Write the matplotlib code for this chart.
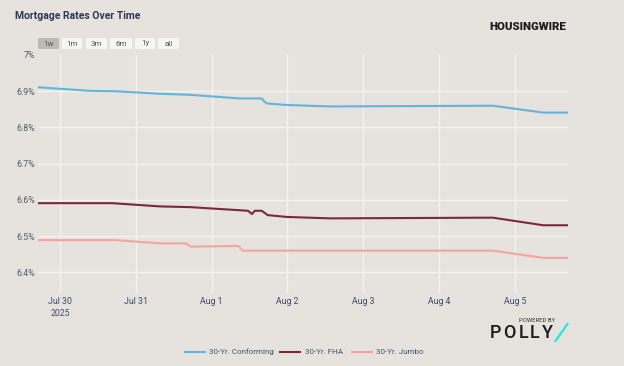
import matplotlib
matplotlib.use("Agg")
import matplotlib.pyplot as plt
from matplotlib.patches import FancyBboxPatch
from matplotlib.lines import Line2D
import pandas as pd

# ---------------- data ----------------
conf_times = ["2025-07-29 17:00", "2025-07-30 09:30", "2025-07-30 17:30", "2025-07-31 07:40",
              "2025-07-31 17:15", "2025-08-01 09:00", "2025-08-01 15:50", "2025-08-01 16:50",
              "2025-08-01 17:45", "2025-08-01 23:45", "2025-08-02 13:30", "2025-08-04 17:00",
              "2025-08-05 09:00", "2025-08-05 16:50"]
conf_vals = [6.911, 6.901, 6.900, 6.893, 6.890, 6.880, 6.880, 6.870, 6.866, 6.862, 6.858,
             6.860, 6.841, 6.841]

fha_times = ["2025-07-29 17:00", "2025-07-30 16:30", "2025-07-31 07:40", "2025-07-31 17:15",
             "2025-08-01 11:30", "2025-08-01 12:45", "2025-08-01 13:40", "2025-08-01 15:50",
             "2025-08-01 17:45", "2025-08-01 23:45", "2025-08-02 13:30", "2025-08-04 17:00",
             "2025-08-05 09:00", "2025-08-05 16:50"]
fha_vals = [6.591, 6.591, 6.582, 6.580, 6.570, 6.561, 6.570, 6.570, 6.558, 6.553, 6.549,
            6.551, 6.530, 6.530]

jumbo_times = ["2025-07-29 17:00", "2025-07-30 17:30", "2025-07-31 07:40", "2025-07-31 15:50",
               "2025-07-31 17:15", "2025-08-01 02:00", "2025-08-01 08:25", "2025-08-01 09:50",
               "2025-08-04 17:00", "2025-08-05 09:00", "2025-08-05 16:50"]
jumbo_vals = [6.489, 6.489, 6.480, 6.480, 6.471, 6.472, 6.473, 6.460, 6.460, 6.440, 6.440]

series_names = ["30-Yr. Conforming", "30-Yr. FHA", "30-Yr. Jumbo"]
series_colors = ["#63b4dd", "#7d2836", "#f3a59e"]

x_tick_dates = ["2025-07-30", "2025-07-31", "2025-08-01", "2025-08-02",
                "2025-08-03", "2025-08-04", "2025-08-05"]
x_tick_labels = ["Jul 30\n2025", "Jul 31", "Aug 1", "Aug 2", "Aug 3", "Aug 4", "Aug 5"]
y_ticks = [6.4, 6.5, 6.6, 6.7, 6.8, 6.9, 7.0]
y_tick_labels = ["6.4%", "6.5%", "6.6%", "6.7%", "6.8%", "6.9%", "7%"]
range_buttons = ["1w", "1m", "3m", "6m", "1y", "all"]

# ---------------- figure ----------------
W, H = 624, 366
bg = "#e6e3df"
plt.rcParams['font.family'] = ['Roboto', 'DejaVu Sans']
fig = plt.figure(figsize=(W / 100, H / 100), dpi=100, facecolor=bg)


def fx(px):
    return px / W


def fy(py):
    return 1 - py / H


ax = fig.add_axes([fx(38), fy(293), fx(568) - fx(38), fy(55) - fy(293)])
ax.set_facecolor(bg)
for s in ax.spines.values():
    s.set_visible(False)

all_series = [(conf_times, conf_vals), (fha_times, fha_vals), (jumbo_times, jumbo_vals)]
for (t, v), name, c in zip(all_series, series_names, series_colors):
    ax.plot(pd.to_datetime(t), v, color=c, lw=1.5, label=name, solid_capstyle='butt', zorder=3)

ax.set_xlim(pd.Timestamp("2025-07-29 17:00"), pd.Timestamp("2025-08-05 16:50"))
ax.set_ylim(6.343, 7.0)
ax.set_yticks(y_ticks)
ax.set_yticklabels(y_tick_labels)
ax.set_xticks(pd.to_datetime(x_tick_dates))
ax.set_xticklabels(x_tick_labels, linespacing=1.35)
ax.tick_params(axis='both', length=0, labelsize=6.3)
ax.tick_params(axis='y', pad=2, labelcolor="#55596a")
ax.tick_params(axis='x', pad=3, labelcolor="#3d4b6b")
ax.grid(True, color="#f5f3f0", lw=1.0, zorder=1)
ax.get_ygridlines()[-1].set_visible(False)

# ---------------- title & header ----------------
fig.text(fx(15), fy(16), "Mortgage Rates Over Time", fontsize=7.5, fontweight='bold',
         color="#2b3956", va='center', ha='left')
fig.text(fx(489), fy(27), "HOUSINGWIRE", fontsize=8.2, fontweight='black',
         color="#1c1d20", va='center', ha='left')

btn_x = [38, 62, 86, 110, 135, 158]
btn_w = [21, 20, 21, 22, 20, 21]
for i, (lab, bx, bw) in enumerate(zip(range_buttons, btn_x, btn_w)):
    fc = "#bdbab5" if i == 0 else "#f7f6f3"
    p = FancyBboxPatch((fx(bx), fy(49)), fx(bw), fy(38) - fy(49),
                       boxstyle="round,pad=0,rounding_size=0.003",
                       transform=fig.transFigure, fc=fc, ec='none')
    fig.patches.append(p)
    fig.text(fx(bx + bw / 2), fy(43.5), lab, fontsize=5.8, color="#555555",
             ha='center', va='center')

# ---------------- legend ----------------
leg_items = [(185, 205, 209), (280, 300, 305), (352, 372, 376)]
for (x0, x1, tx), name, c in zip(leg_items, series_names, series_colors):
    fig.lines.append(Line2D([fx(x0), fx(x1)], [fy(352), fy(352)], transform=fig.transFigure,
                            color=c, lw=1.5))
    fig.text(fx(tx), fy(352), name, fontsize=5.8, color="#4a5068", va='center', ha='left')

# ---------------- POLLY logo ----------------
fig.text(fx(537.5), fy(321), "POWERED BY", fontsize=4.2, color="#333333",
         ha='center', va='center')
for ch, cx in zip("POLLY", [495.5, 509.5, 523.5, 535, 547]):
    fig.text(fx(cx), fy(332.5), ch, fontsize=13, fontweight='medium', color="#1c1c1c",
             ha='center', va='center')
fig.lines.append(Line2D([fx(555.5), fx(567.5)], [fy(341), fy(324)], transform=fig.transFigure,
                        color="#25e6e0", lw=1.6))

fig.savefig("out.png", dpi=100, facecolor=bg)
